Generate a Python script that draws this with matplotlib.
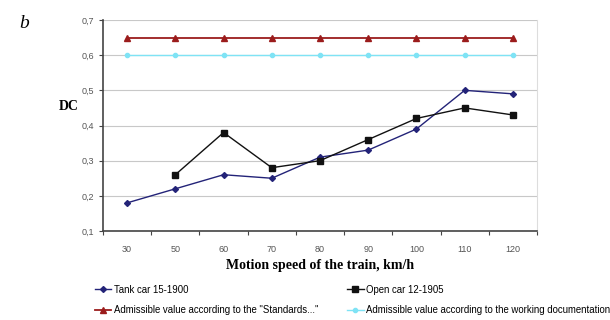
import matplotlib
matplotlib.use('Agg')
from matplotlib import pyplot as plt
import numpy as np

speeds = ["30", "50", "60", "70", "80", "90", "100", "110", "120"]
tankCar = [0.18, 0.22, 0.26, 0.25, 0.31, 0.33, 0.39, 0.50, 0.49]
openCar = [np.nan, 0.26, 0.38, 0.28, 0.30, 0.36, 0.42, 0.45, 0.43]
standards = [0.65] * 9
workingDoc = [0.60] * 9

fig = plt.figure(figsize=(6.1, 3.2), dpi=100)
ax = fig.add_axes([103/610, 1 - 231/320, (537-103)/610, 211/320])

x = np.arange(len(speeds))
ax.plot(x, standards, color="#9b1c1c", marker="^", markersize=4, lw=1.3,
        label='Admissible value according to the "Standards..."')
ax.plot(x, workingDoc, color="#7fe3f5", marker="o", markersize=3, lw=1.0,
        label="Admissible value according to the working documentation")
ax.plot(x, tankCar, color="#232378", marker="D", markersize=3, lw=1.0,
        label="Tank car 15-1900")
ax.plot(x, openCar, color="#111111", marker="s", markersize=4, lw=1.0,
        label="Open car 12-1905")

ax.set_xlim(-0.5, len(speeds) - 0.5)
ax.set_ylim(0.1, 0.7)
ax.set_xticks(np.arange(-0.5, len(speeds), 1.0))
ax.set_xticklabels([])
ax.set_xticks(x, minor=True)
ax.set_xticklabels(speeds, minor=True, family="Liberation Sans")
ax.tick_params(axis="x", which="minor", length=0, pad=10, labelsize=6.5, labelcolor="#555555")
ax.tick_params(axis="x", which="major", length=3, color="#444444")
yt = np.round(np.arange(0.1, 0.71, 0.1), 1)
ax.set_yticks(yt)
ax.set_yticklabels([("%.1f" % v).replace(".", ",") for v in yt], family="Liberation Sans")
ax.tick_params(axis="y", length=3, labelsize=6.5, labelcolor="#555555", color="#444444")
ax.grid(axis="y", color="#c8c8c8", lw=0.8)
ax.set_axisbelow(True)
ax.spines["top"].set_visible(False)
ax.spines["right"].set_color("#dddddd")
ax.spines["left"].set_color("#444444")
ax.spines["bottom"].set_color("#444444")
ax.spines["left"].set_linewidth(1.2)
ax.spines["bottom"].set_linewidth(1.2)

fig.text(320/610, 1 - 265/320, "Motion speed of the train, km/h", ha="center", va="center",
         family="Liberation Serif", fontweight="bold", fontsize=10)
fig.text(69/610, 1 - 107/320, "DC", ha="center", va="center",
         family="Liberation Serif", fontweight="bold", fontsize=10)
fig.text(24/610, 1 - 28/320, "b", ha="center", va="baseline",
         family="Liberation Serif", style="italic", fontsize=14)

h, l = ax.get_legend_handles_labels()
order = [2, 0, 3, 1]
fig.legend([h[i] for i in order], [l[i] for i in order], ncol=2, loc="center left",
           bbox_to_anchor=(90/610, 1 - 300/320), frameon=False, borderpad=0,
           handlelength=1.7, handletextpad=0.3, columnspacing=3, labelspacing=1.1,
           prop={"family": "Liberation Sans", "size": 6.9})

plt.savefig("out.png")
